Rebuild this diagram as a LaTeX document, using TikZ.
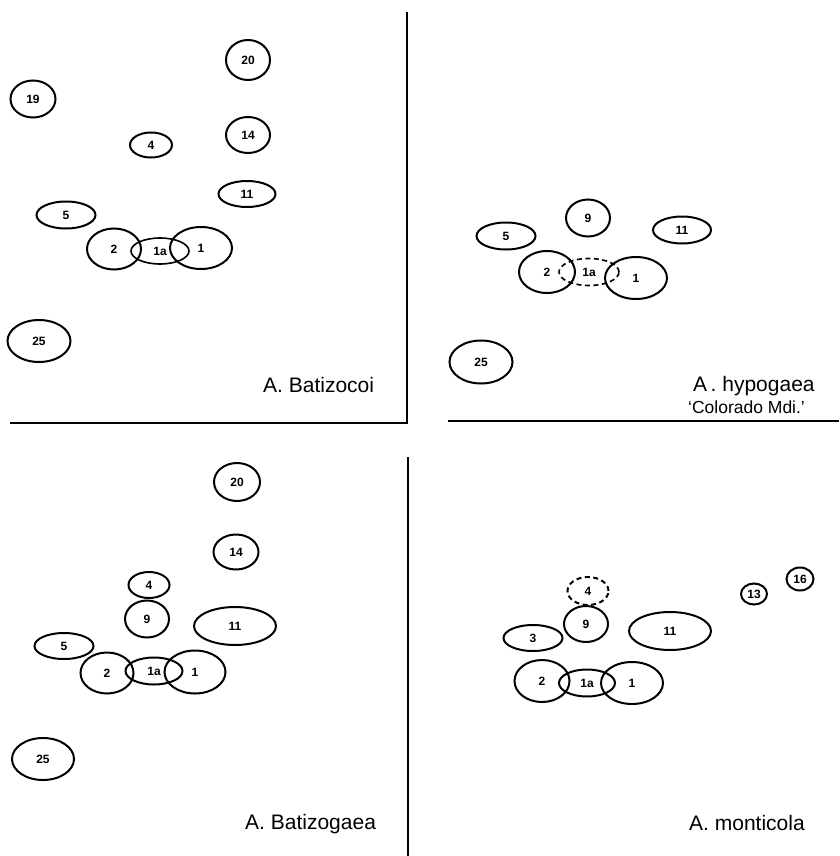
\documentclass[tikz,border=0pt]{standalone}
\usepackage{fontspec}
\setmainfont{Liberation Sans}
\usetikzlibrary{shapes.geometric}
\tikzset{
  ell/.style={draw, ellipse, inner sep=0pt, line width=2pt, font=\fontsize{12}{12}\selectfont\bfseries},
  dell/.style={ell, dash pattern=on 5pt off 3.5pt},
  axis/.style={line width=2pt},
  lbl/.style={anchor=base west, inner sep=0pt, font=\fontsize{21}{24}\selectfont},
  lbls/.style={anchor=base west, inner sep=0pt, font=\fontsize{17.5}{20}\selectfont}
}
\begin{document}
\begin{tikzpicture}[x=1pt,y=-1pt]
\useasboundingbox (0,0) rectangle (839,856);
% ---------- Quadrant 1: A. Batizocoi
\node[ell, minimum width=44pt, minimum height=40pt] (a20) at (248,60) {20};
\node[ell, minimum width=45pt, minimum height=37pt] (a19) at (33,99) {19};
\node[ell, minimum width=42pt, minimum height=25pt] (a4) at (151,145) {4};
\node[ell, minimum width=44pt, minimum height=36pt] (a14) at (248,135) {14};
\node[ell, minimum width=57pt, minimum height=26pt] (a11) at (247,194) {11};
\node[ell, minimum width=59pt, minimum height=27pt] (a5) at (66,215) {5};
\node[ell, minimum width=54pt, minimum height=41pt] (a2) at (114,249) {2};
\node[ell, minimum width=58pt, minimum height=26pt, line width=1.6pt] (a1a) at (160,251) {1a};
\node[ell, minimum width=62pt, minimum height=42pt] (a1) at (201,248) {1};
\node[ell, minimum width=63pt, minimum height=42pt] (a25) at (39,341) {25};
\node[lbl] (la) at (263,392) {A.\ Batizocoi};
\coordinate (av1) at (407,12);
\coordinate (av2) at (407,423);
\coordinate (ah1) at (10,423);
\draw[axis] (av1) -- (av2) -- (ah1);
% ---------- Quadrant 2: A. hypogaea
\node[ell, minimum width=44pt, minimum height=37pt] (b9) at (588,218) {9};
\node[ell, minimum width=59pt, minimum height=27pt] (b5) at (506,236) {5};
\node[ell, minimum width=58pt, minimum height=27pt] (b11) at (682,230) {11};
\node[ell, minimum width=56pt, minimum height=42pt] (b2) at (547,272) {2};
\node[dell, minimum width=60pt, minimum height=27pt, line width=1.6pt] (b1a) at (589,272) {1a};
\node[ell, minimum width=62pt, minimum height=42pt] (b1) at (636,278) {1};
\node[ell, minimum width=63pt, minimum height=43pt] (b25) at (481,362) {25};
\node[lbl] (lb) at (693,391) {A\,.\ hypogaea};
\node[lbls] (lb2) at (688,413) {`Colorado Mdi.'};
\coordinate (bh1) at (448,421);
\coordinate (bh2) at (839,421);
\draw[axis] (bh1) -- (bh2);
% ---------- Quadrant 3: A. Batizogaea
\node[ell, minimum width=46pt, minimum height=38pt] (c20) at (237,482) {20};
\node[ell, minimum width=45pt, minimum height=35pt] (c14) at (236,552) {14};
\node[ell, minimum width=41pt, minimum height=26pt] (c4) at (149,585) {4};
\node[ell, minimum width=44pt, minimum height=37pt] (c9) at (147,619) {9};
\node[ell, minimum width=82pt, minimum height=38pt] (c11) at (235,626) {11};
\node[ell, minimum width=59pt, minimum height=26pt] (c5) at (64,646) {5};
\node[ell, minimum width=53pt, minimum height=41pt] (c2) at (107,673) {2};
\node[ell, minimum width=57pt, minimum height=27pt] (c1a) at (154,671) {1a};
\node[ell, minimum width=61pt, minimum height=43pt] (c1) at (195,672) {1};
\node[ell, minimum width=62pt, minimum height=42pt] (c25) at (43,759) {25};
\node[lbl] (lc) at (245,829) {A.\ Batizogaea};
\coordinate (cv1) at (408,457);
\coordinate (cv2) at (408,856);
\draw[axis] (cv1) -- (cv2);
% ---------- Quadrant 4: A. monticola
\node[dell, minimum width=41pt, minimum height=28pt] (d4) at (588,591) {4};
\node[ell, minimum width=27pt, minimum height=23pt] (d16) at (800,579) {16};
\node[ell, minimum width=26pt, minimum height=21pt] (d13) at (754,594) {13};
\node[ell, minimum width=44pt, minimum height=36pt] (d9) at (586,624) {9};
\node[ell, minimum width=59pt, minimum height=26pt] (d3) at (533,638) {3};
\node[ell, minimum width=82pt, minimum height=38pt] (d11) at (670,631) {11};
\node[ell, minimum width=55pt, minimum height=42pt] (d2) at (542,681) {2};
\node[ell, minimum width=56pt, minimum height=27pt] (d1a) at (587,683) {1a};
\node[ell, minimum width=62pt, minimum height=42pt] (d1) at (632,683) {1};
\node[lbl] (ld) at (689,830) {A.\ monticola};
\end{tikzpicture}
\end{document}
